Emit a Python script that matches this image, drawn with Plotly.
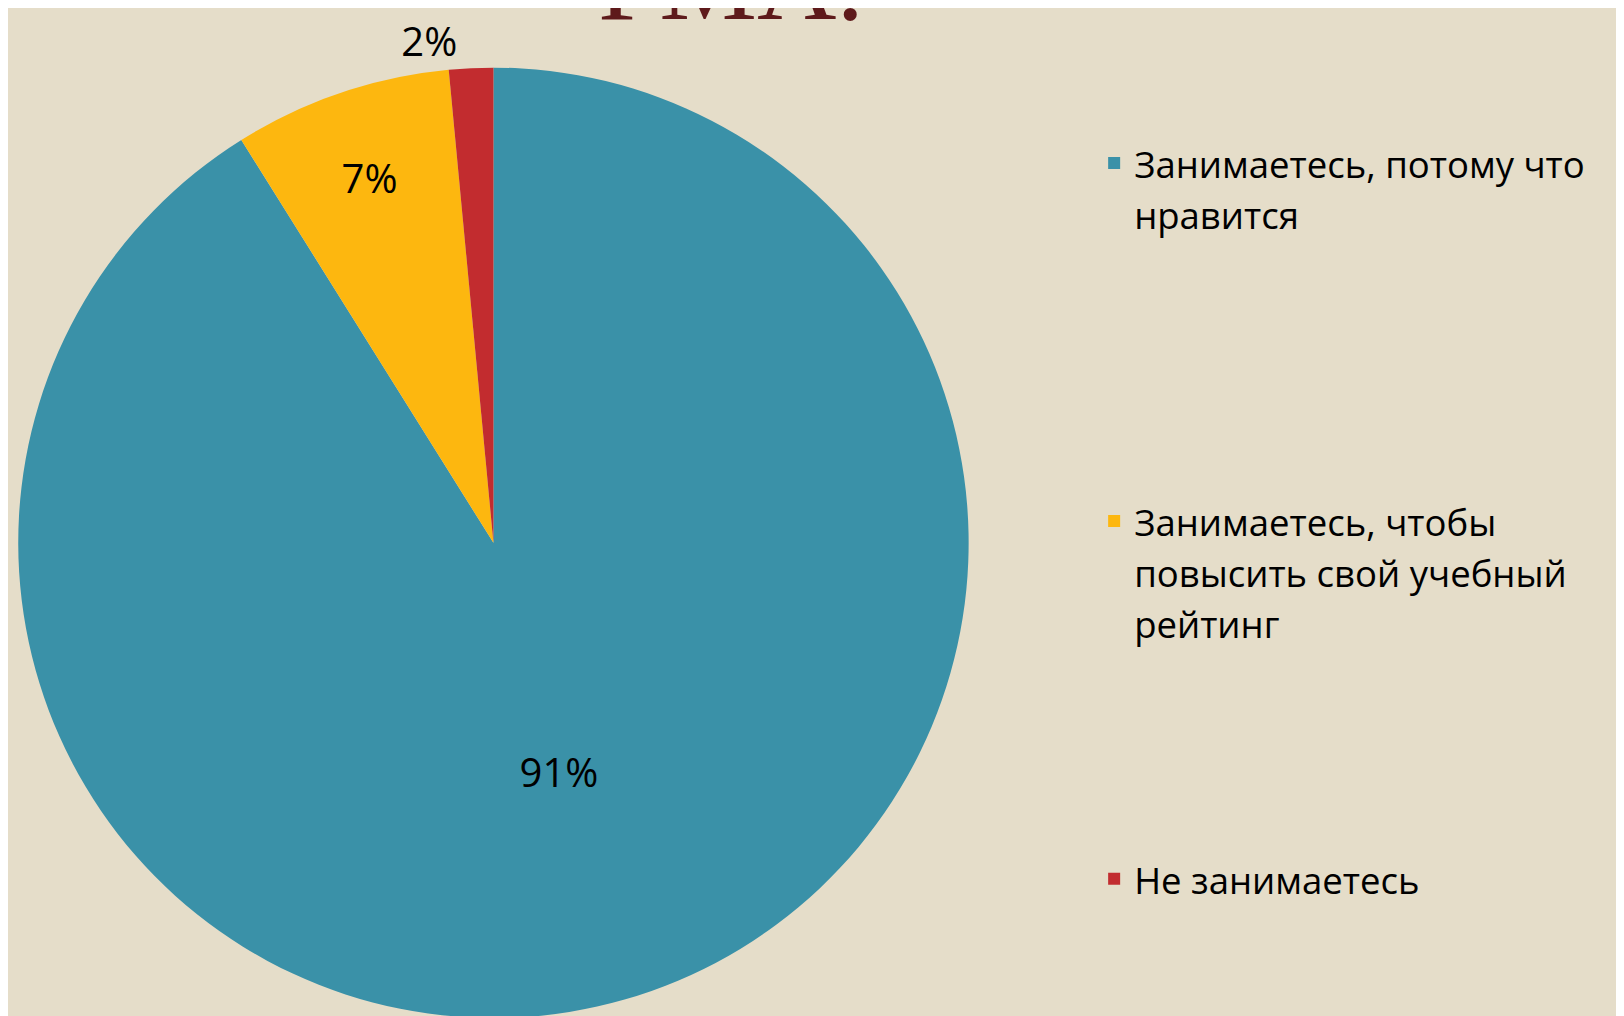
import plotly.graph_objects as go

# ── Data ─────────────────────────────────────────────────────────────────────
labels = [
    "Занимаетесь, потому что<br>нравится",
    "Занимаетесь, чтобы<br>повысить свой учебный<br>рейтинг",
    "Не занимаетесь",
]
shares = [91.1, 7.4, 1.5]          # % of respondents
colors = ["#3A91A8", "#FDB70F", "#C22C2F"]
text_pos = ["inside", "inside", "outside"]

BG = "#E5DDC9"

# pad the legend entries so the items spread down the right side
N_LINES = 7
legend_labels = []
for i, l in enumerate(labels):
    pad = 0 if i == len(labels) - 1 else N_LINES - 1 - l.count("<br>")
    legend_labels.append(
        '<span style="font-size:36.5px">' + l + "</span>" + "<br> " * pad
    )

fig = go.Figure(go.Pie(
    labels=legend_labels,
    values=shares,
    sort=False,
    direction="clockwise",
    rotation=0,
    marker=dict(colors=colors, line=dict(width=0)),
    texttemplate="%{percent:.0%}",
    textposition=text_pos,
    insidetextorientation="horizontal",
    textfont=dict(family="Open Sans", size=40, color="black"),
    domain=dict(x=[0.0037, 0.5924], y=[0.0059, 0.9469]),
    hoverinfo="percent",
))

# heading of the slide, mostly cut off above the chart
fig.add_annotation(
    text="РМА.", xref="paper", yref="paper", x=0.4446, y=1.0, yanchor="bottom",
    yshift=-31, showarrow=False,
    font=dict(family="Liberation Serif", size=110, color="#5E1A1B"),
)

fig.update_layout(
    width=1624, height=1016,
    paper_bgcolor=BG, plot_bgcolor=BG,
    margin=dict(l=0, r=0, t=0, b=0),
    font=dict(family="Open Sans", color="black"),
    legend=dict(
        x=0.6684, y=0.884, xanchor="left", yanchor="top",
        valign="top",
        font=dict(family="Open Sans", size=39, color="black"),
        bgcolor="rgba(0,0,0,0)",
    ),
)

fig.write_html("out.html")
